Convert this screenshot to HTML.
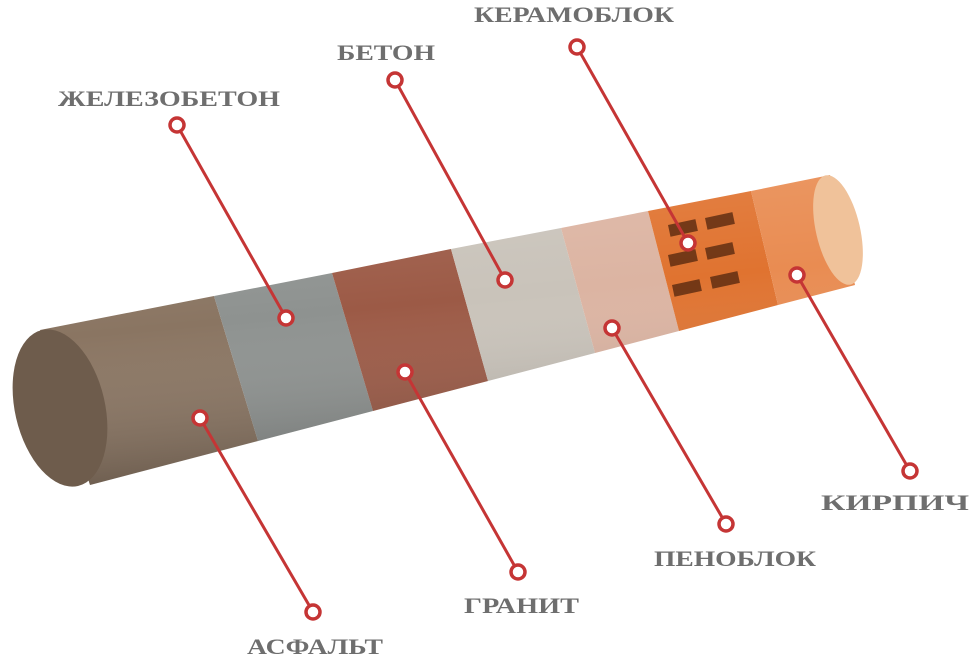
<!DOCTYPE html>
<html><head><meta charset="utf-8"><style>html,body{margin:0;padding:0;background:#fff}svg{display:block}</style></head>
<body>
<svg width="974" height="660" viewBox="0 0 974 660" xmlns="http://www.w3.org/2000/svg">
<defs>
<linearGradient id="sh" x1="0" y1="0" x2="0.25" y2="1">
<stop offset="0" stop-color="#fff" stop-opacity="0.15"/>
<stop offset="0.5" stop-color="#fff" stop-opacity="0"/>
<stop offset="1" stop-color="#000" stop-opacity="0.25"/>
</linearGradient>
</defs>
<!-- segments: top=(40+790t,330-155t) bottom=(90+765t,485-200t) -->
<polygon points="40,330 214,296 258,441 90,485" fill="#8a7562"/>
<polygon points="214,296 332,273 373,411 258,441" fill="#8e9290"/>
<polygon points="332,273 451,249 488,381 373,411" fill="#9c5a46"/>
<polygon points="451,249 561,228 595,353 488,381" fill="#c9c3ba"/>
<polygon points="561,228 648,211 679,331 595,353" fill="#dcb4a2"/>
<polygon points="648,211 751,191 778,305 679,331" fill="#e07330"/>
<polygon points="751,191 830,175 855,285 778,305" fill="#e98c52"/>
<polygon points="40,330 830,175 855,285 90,485" fill="url(#sh)"/>
<ellipse cx="838" cy="230" rx="22" ry="56" transform="rotate(-13 838 230)" fill="#f0c29a"/>
<ellipse cx="60" cy="408" rx="45" ry="80" transform="rotate(-13 60 408)" fill="#6e5c4c"/>
<g fill="#fbe1cf" opacity="0.8">
<rect x="668" y="225" width="28" height="12" transform="rotate(-12 668 225)" fill="#5a2a10"/>
<rect x="705" y="218" width="28" height="12" transform="rotate(-12 705 218)" fill="#5a2a10"/>
<rect x="668" y="255" width="28" height="12" transform="rotate(-12 668 255)" fill="#5a2a10"/>
<rect x="705" y="248" width="28" height="12" transform="rotate(-12 705 248)" fill="#5a2a10"/>
<rect x="672" y="285" width="28" height="12" transform="rotate(-12 672 285)" fill="#5a2a10"/>
<rect x="710" y="277" width="28" height="12" transform="rotate(-12 710 277)" fill="#5a2a10"/>
</g>
<g stroke="#c53535" stroke-width="3" fill="none">
<line x1="177" y1="125" x2="286" y2="318"/>
<line x1="395" y1="80" x2="505" y2="280"/>
<line x1="577" y1="47" x2="688" y2="243"/>
<line x1="910" y1="471" x2="797" y2="275"/>
<line x1="726" y1="524" x2="612" y2="328"/>
<line x1="518" y1="572" x2="405" y2="372"/>
<line x1="313" y1="612" x2="200" y2="418"/>
</g>
<g stroke="#c53535" stroke-width="3.5" fill="#fff">
<circle cx="177" cy="125" r="7"/><circle cx="286" cy="318" r="7"/>
<circle cx="395" cy="80" r="7"/><circle cx="505" cy="280" r="7"/>
<circle cx="577" cy="47" r="7"/><circle cx="688" cy="243" r="7"/>
<circle cx="910" cy="471" r="7"/><circle cx="797" cy="275" r="7"/>
<circle cx="726" cy="524" r="7"/><circle cx="612" cy="328" r="7"/>
<circle cx="518" cy="572" r="7"/><circle cx="405" cy="372" r="7"/>
<circle cx="313" cy="612" r="7"/><circle cx="200" cy="418" r="7"/>
</g>
<g font-family="'Liberation Serif',serif" font-weight="bold" font-size="22" fill="#6e6e6e" lengthAdjust="spacingAndGlyphs">
<text x="58" y="106" textLength="222" lengthAdjust="spacingAndGlyphs">ЖЕЛЕЗОБЕТОН</text>
<text x="337" y="60" textLength="98" lengthAdjust="spacingAndGlyphs">БЕТОН</text>
<text x="474" y="22" textLength="200" lengthAdjust="spacingAndGlyphs">КЕРАМОБЛОК</text>
<text x="821" y="510" textLength="148" lengthAdjust="spacingAndGlyphs">КИРПИЧ</text>
<text x="654" y="566" textLength="162" lengthAdjust="spacingAndGlyphs">ПЕНОБЛОК</text>
<text x="464" y="613" textLength="115" lengthAdjust="spacingAndGlyphs">ГРАНИТ</text>
<text x="247" y="654" textLength="136" lengthAdjust="spacingAndGlyphs">АСФАЛЬТ</text>
</g>
</svg>
</body></html>
